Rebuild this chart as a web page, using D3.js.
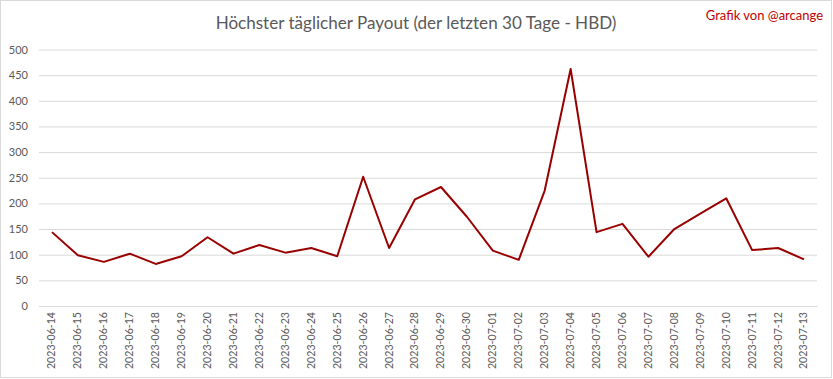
<!DOCTYPE html>
<html><head><meta charset="utf-8">
<script src="https://cdn.jsdelivr.net/npm/d3@7"></script>
<style>body{margin:0;background:#fff}svg{display:block}text{font-family:Lato,"Open Sans",sans-serif}</style>
</head><body><svg id="c" width="833" height="379"></svg>
<script>
const dates = ["2023-06-14","2023-06-15","2023-06-16","2023-06-17","2023-06-18","2023-06-19","2023-06-20","2023-06-21","2023-06-22","2023-06-23","2023-06-24","2023-06-25","2023-06-26","2023-06-27","2023-06-28","2023-06-29","2023-06-30","2023-07-01","2023-07-02","2023-07-03","2023-07-04","2023-07-05","2023-07-06","2023-07-07","2023-07-08","2023-07-09","2023-07-10","2023-07-11","2023-07-12","2023-07-13"];
const payout = [144,99,86,102,82,97,134,102,119,104,113,97,252,113,208,232,174,108,90,225,462,144,160,96,150,180,210,109,113,91];
const yTicks = [0,50,100,150,200,250,300,350,400,450,500];
const title = "Höchster täglicher Payout (der letzten 30 Tage - HBD)";
const credit = "Grafik von @arcange";

const svg = d3.select("#c");
const L=39, R=817, T=49.5, B=306;
svg.append("rect").attr("x",0.5).attr("y",0.5).attr("width",831).attr("height",377).attr("fill","#fff").attr("stroke","#d9d9d9");

const x = d3.scaleBand().domain(dates).range([L,R]);
const y = d3.scaleLinear().domain([0,500]).range([B,T]);

const ya = svg.append("g").attr("transform",`translate(${L},0)`)
  .call(d3.axisLeft(y).tickValues(yTicks).tickSize(-(R-L)).tickPadding(11));
ya.select(".domain").remove();
ya.selectAll("line").attr("stroke","#d9d9d9");
ya.selectAll("text").attr("fill","#595959").style("font-size","11px");

const xa = svg.append("g").attr("transform",`translate(0,${B})`)
  .call(d3.axisBottom(x).tickSize(0));
xa.select(".domain").attr("stroke","#d9d9d9");
xa.selectAll("text").attr("fill","#595959").style("font-size","10.6px")
  .attr("transform","rotate(-90)").attr("text-anchor","end").attr("dx","-6px").attr("dy","0.32em").attr("x",0).attr("y",0);

svg.append("path").datum(payout)
  .attr("fill","none").attr("stroke","#990000").attr("stroke-width",2).attr("stroke-linejoin","round")
  .attr("d", d3.line().x((d,i)=>x(dates[i])+x.bandwidth()/2).y(d=>y(d)));

const t = svg.append("text").attr("x",416).attr("y",29).attr("text-anchor","middle")
  .attr("fill","#595959").style("font-size","18px").text(title);
const w = t.node().getComputedTextLength();
t.style("font-size",(18*401/w).toFixed(2)+"px");
svg.append("text").attr("x",823).attr("y",20).attr("text-anchor","end")
  .attr("fill","#c00000").style("font-size","13px").text(credit);
</script></body></html>
